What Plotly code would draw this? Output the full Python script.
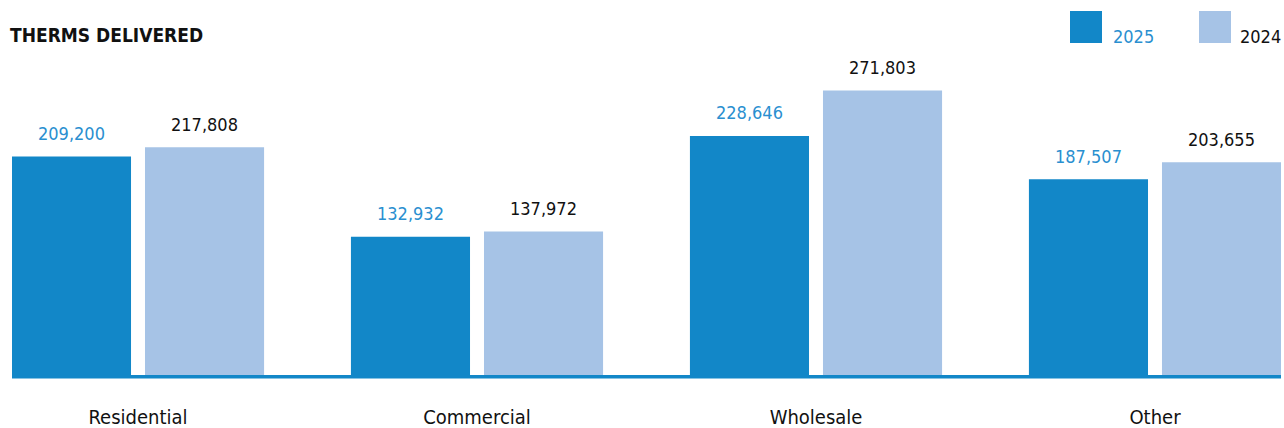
import plotly.graph_objects as go

categories = ["Residential", "Commercial", "Wholesale", "Other"]
values_2025 = [209200, 132932, 228646, 187507]
values_2024 = [217808, 137972, 271803, 203655]
series_names = ["2025", "2024"]

C25 = "#1287C8"
C24 = "#A6C3E6"
T25 = "#2A8FD0"
FONT = "DejaVu Sans Condensed, Liberation Sans, sans-serif"

fig = go.Figure()
fig.add_trace(go.Bar(x=categories, y=values_2025, name=series_names[0],
                     marker=dict(color=C25, line=dict(width=0)), hoverinfo="skip"))
fig.add_trace(go.Bar(x=categories, y=values_2024, name=series_names[1],
                     marker=dict(color=C24, line=dict(width=0)), hoverinfo="skip"))

W, H = 1284, 428
ml, mr, mt, mb = 12, 3, 60, 51
pw, ph = W - ml - mr, H - mt - mb

def px2paper_x(px):
    return (px - ml) / pw

def px2paper_y(py):
    return (H - mb - py) / ph

ann = []
for i, c in enumerate(categories):
    ann.append(dict(x=c, y=values_2025[i], xref="x", yref="y", text=f"{values_2025[i]:,}",
                    showarrow=False, xshift=-66.5, yshift=23, yanchor="middle",
                    font=dict(family=FONT, size=18, color=T25)))
    ann.append(dict(x=c, y=values_2024[i], xref="x", yref="y", text=f"{values_2024[i]:,}",
                    showarrow=False, xshift=66.5, yshift=23, yanchor="middle",
                    font=dict(family=FONT, size=18, color="#111111")))

ann.append(dict(x=px2paper_x(8), y=px2paper_y(35), xref="paper", yref="paper",
                text="<b>THERMS DELIVERED</b>", showarrow=False,
                xanchor="left", yanchor="middle",
                font=dict(family=FONT, size=19, color="#111111")))

shapes = []
for (x0, col, name, tcol, tx) in [(1070, C25, series_names[0], T25, 1111),
                                   (1199, C24, series_names[1], "#111111", 1238)]:
    shapes.append(dict(type="rect", xref="paper", yref="paper",
                       x0=px2paper_x(x0), x1=px2paper_x(x0 + 32),
                       y0=px2paper_y(43), y1=px2paper_y(11),
                       fillcolor=col, line=dict(width=0), layer="above"))
    ann.append(dict(x=px2paper_x(tx), y=px2paper_y(36), xref="paper", yref="paper",
                    text=name, showarrow=False, xanchor="left", yanchor="middle",
                    font=dict(family=FONT, size=18, color=tcol)))

# baseline along the category axis
shapes.append(dict(type="line", xref="paper", yref="paper", x0=0, x1=1,
                   y0=px2paper_y(376.8), y1=px2paper_y(376.8),
                   line=dict(color=C25, width=3.5), layer="above"))

ymax = ph * 948.5
fig.update_layout(
    width=W, height=H,
    margin=dict(l=ml, r=mr, t=mt, b=mb, pad=0, autoexpand=False),
    paper_bgcolor="white", plot_bgcolor="white",
    barmode="group", bargap=0.215, bargroupgap=0.105,
    showlegend=False,
    annotations=ann, shapes=shapes,
    xaxis=dict(range=[-0.3717, 3.3717], showgrid=False, zeroline=False, showline=False,
               ticks="", tickfont=dict(family=FONT, size=20, color="#111111"),
               ticklabelstandoff=26, automargin=False, fixedrange=True),
    yaxis=dict(range=[0, ymax], visible=False, fixedrange=True, automargin=False),
    font=dict(family=FONT),
)

fig.write_html("out.html", config={"displayModeBar": False})
